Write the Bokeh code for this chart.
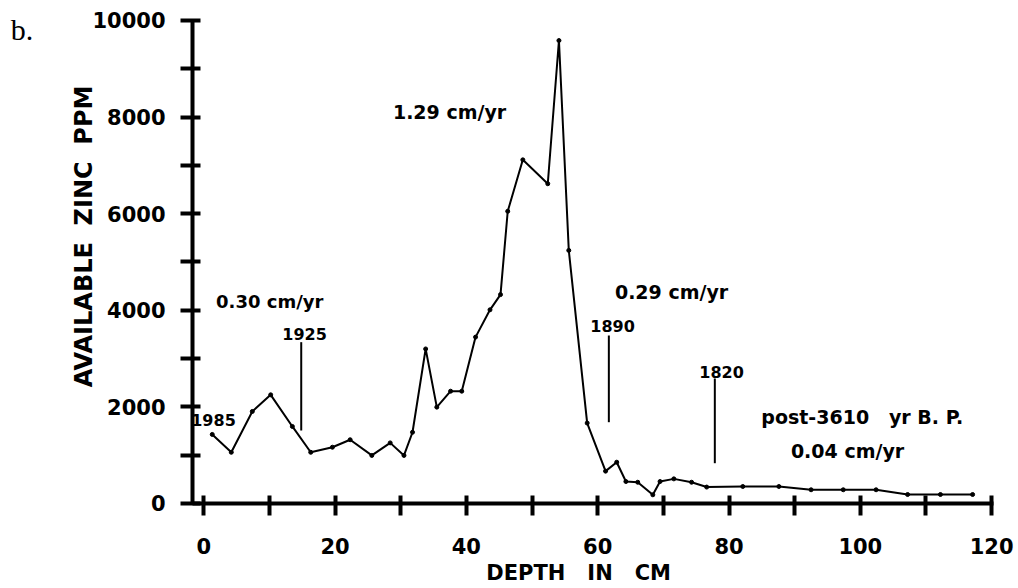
from bokeh.plotting import figure
from bokeh.models import FixedTicker, Label, Range1d
from bokeh.embed import file_html
from bokeh.resources import INLINE

# ---- data ----
depth_cm = [1.3, 4.2, 7.4, 10.2, 13.5, 16.3, 19.6, 22.3, 25.6, 28.4, 30.5, 31.8,
            33.8, 35.5, 37.6, 39.3, 41.4, 43.6, 45.2, 46.3, 48.6, 52.4, 54.1, 55.6,
            58.4, 61.2, 62.9, 64.3, 66.1, 68.4, 69.5, 71.6, 74.3, 76.6, 82.1, 87.6,
            92.5, 97.4, 102.4, 107.2, 112.2, 117.1]
zinc_ppm = [1430, 1060, 1905, 2250, 1595, 1060, 1165, 1320, 995, 1255, 995, 1475,
            3200, 1995, 2325, 2325, 3445, 4010, 4325, 6050, 7115, 6620, 9585, 5240,
            1665, 670, 855, 455, 440, 180, 455, 510, 440, 340, 352, 352,
            284, 284, 284, 186, 186, 186]

x_ticks = [0, 20, 40, 60, 80, 100, 120]
x_minor = [10, 30, 50, 70, 90, 110]
y_ticks = [0, 2000, 4000, 6000, 8000, 10000]
y_minor = [1000, 3000, 5000, 7000, 9000]

# date markers (vertical lines)
marker_depth = [14.85, 61.7, 77.84]
marker_top = [3340, 3478, 2588]
marker_bottom = [1511, 1683, 834]

# annotation texts (non-breaking spaces keep the wide gaps)
NB = "\u00a0"
date_texts = ["1985", "1925", "1890", "1820"]
rate_texts = ["0.30 cm/yr", "1.29 cm/yr", "0.29 cm/yr", "0.04 cm/yr"]
age_text = "post-3610" + NB * 3 + "yr B. P."
x_title = "DEPTH" + NB * 3 + "IN" + NB * 3 + "CM"
y_title = "AVAILABLE" + NB * 2 + "ZINC" + NB * 2 + "PPM"
panel_text = "b."

FONT = "DejaVu Sans"

# the frame covers the whole canvas; the axes sit at fixed data locations
p = figure(width=1018, height=588,
           x_range=Range1d(-30.95, 124.09), y_range=Range1d(-1760, 10414),
           output_backend="svg", toolbar_location=None,
           min_border=0)
p.outline_line_color = None
p.grid.visible = False
p.background_fill_color = "white"
p.border_fill_color = "white"

p.yaxis.fixed_location = -1.7
p.yaxis.bounds = (0, 10000)
p.xaxis.fixed_location = 0
p.xaxis.bounds = (-1.7, 120.3)

for ax, ticks, minor, standoff in ((p.xaxis, x_ticks, x_minor, 23),
                                   (p.yaxis, y_ticks, y_minor, 15)):
    ax.ticker = FixedTicker(ticks=ticks, minor_ticks=minor)
    ax.axis_line_color = "black"
    ax.axis_line_width = 4
    ax.major_tick_line_color = "black"
    ax.minor_tick_line_color = "black"
    ax.major_tick_line_width = 4
    ax.minor_tick_line_width = 4
    ax.major_tick_in = 8
    ax.major_tick_out = 12
    ax.minor_tick_in = 8
    ax.minor_tick_out = 12
    ax.major_label_standoff = standoff
    ax.major_label_text_font = FONT
    ax.major_label_text_font_style = "bold"
    ax.major_label_text_font_size = "21px"
    ax.major_label_text_color = "black"

p.line(depth_cm, zinc_ppm, line_color="black", line_width=2)
p.scatter(depth_cm, zinc_ppm, size=4, color="black")
p.segment(x0=marker_depth, y0=marker_bottom, x1=marker_depth, y1=marker_top,
          line_color="black", line_width=2)


def add_text(txt, x, y, size, angle=0, font=FONT, style="bold", align="center"):
    p.add_layout(Label(x=x, y=y, text=txt, text_font=font, text_font_style=style,
                       text_font_size=size, text_color="black", text_align=align,
                       text_baseline="middle", angle=angle))


# date labels
add_text(date_texts[0], 1.49, 1729, "16px")
add_text(date_texts[1], 15.35, 3509, "16px")
add_text(date_texts[2], 62.26, 3685, "16px")
add_text(date_texts[3], 78.86, 2723, "16px")
# sedimentation rates
add_text(rate_texts[0], 10.05, 4172, "18px")
add_text(rate_texts[1], 37.44, 8106, "19px")
add_text(rate_texts[2], 71.25, 4379, "19px")
add_text(rate_texts[3], 98.05, 1087, "19px")
add_text(age_text, 100.3, 1791, "19px")
# axis titles
add_text(x_title, 57.1, -1429, "21px")
add_text(y_title, -18.3, 5528, "24px", angle=1.5707963)
# panel letter
add_text(panel_text, -29.4, 9814, "30px", font="Liberation Serif", style="normal",
         align="left")

open("out.html", "w").write(file_html(p, INLINE))
